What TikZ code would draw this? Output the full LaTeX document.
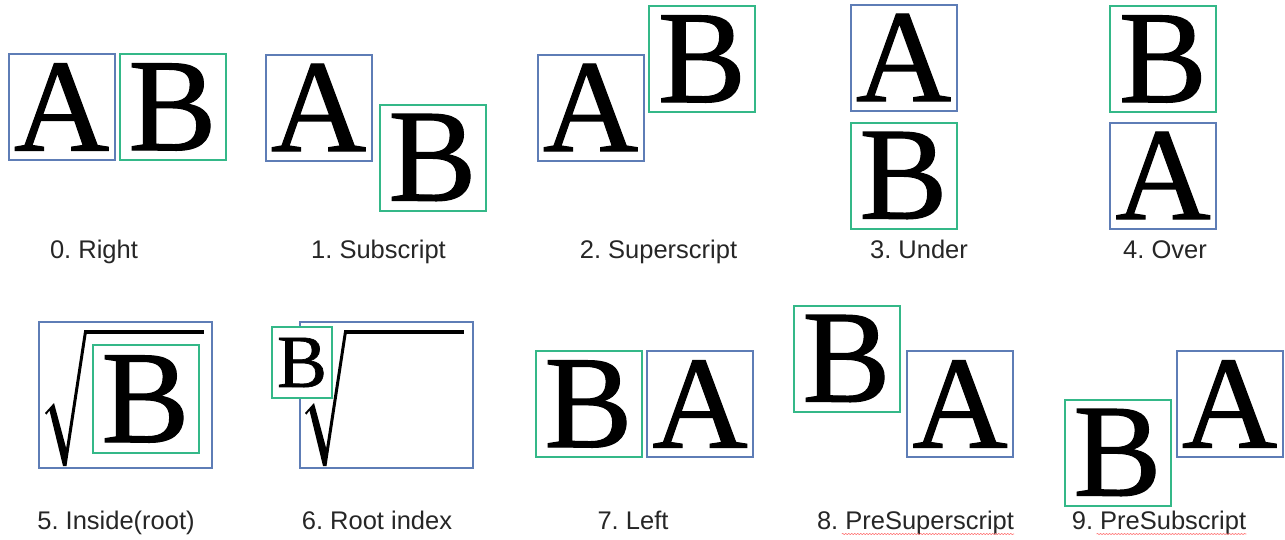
\documentclass[tikz,border=0pt]{standalone}
\usepackage{fontspec}
\setmainfont{Liberation Serif}
\newfontfamily\letterfont[FakeBold=0.9]{Liberation Serif}
\newfontfamily\labfont{Liberation Sans}
\usetikzlibrary{decorations.pathmorphing}
\definecolor{boxblue}{RGB}{94,125,182}
\definecolor{boxgreen}{RGB}{52,184,136}
\definecolor{labgray}{RGB}{38,38,38}
\frenchspacing
\tikzset{
  letterbox/.style={draw, line width=2pt, inner sep=0pt, fill=white,
    minimum width=106pt, minimum height=106pt,
    font=\letterfont\fontsize{132}{132}\selectfont},
  abox/.style={letterbox, draw=boxblue},
  bbox/.style={letterbox, draw=boxgreen},
  rootbox/.style={draw=boxblue, line width=2pt, inner sep=0pt,
    minimum width=173pt, minimum height=146pt},
  smallbbox/.style={bbox, minimum width=60pt, minimum height=71pt,
    font=\letterfont\fontsize{75}{75}\selectfont},
  caption/.style={font=\labfont\fontsize{25.5}{30}\selectfont, text=labgray,
    inner sep=0pt, anchor=base},
  squiggle/.style={draw=red!55, line width=0.6pt, decorate,
    decoration={snake, amplitude=0.6pt, segment length=3pt}},
  radical/.pic={
    \fill[black] (-40,81.5) -- (-31,71.5) -- (-18.85,116.6) -- (-1,0) -- (2,0)
      -- (-18.5,134.5) -- (-22,134.5) -- (-35.5,79) -- (-38.5,83) -- cycle;
    \fill[black] (-1,-2) rectangle (119,2.5);
  }
}
\begin{document}
\begin{tikzpicture}[x=1pt,y=-1pt]
\useasboundingbox[fill=white] (0,0) rectangle (1285,539);

% 0. Right
\node[abox] (a0) at (61.5,107) {A};
\node[bbox] (b0) at (172.5,107) {B};
\node[caption] (l0) at (94,258) {0. Right};

% 1. Subscript
\node[abox] (a1) at (318.5,107.5) {A};
\node[bbox] (b1) at (432.5,157.5) {B};
\node[caption] (l1) at (378.5,258) {1. Subscript};

% 2. Superscript
\node[abox] (a2) at (590.5,107.5) {A};
\node[bbox] (b2) at (702,59) {B};
\node[caption] (l2) at (658.5,258) {2. Superscript};

% 3. Under
\node[abox] (a3) at (903.5,57.5) {A};
\node[bbox] (b3) at (903.5,175.5) {B};
\node[caption] (l3) at (919,258) {3. Under};

% 4. Over
\node[bbox] (b4) at (1163,59) {B};
\node[abox] (a4) at (1163,175.5) {A};
\node[caption] (l4) at (1165,258) {4. Over};

% 5. Inside(root)
\node[rootbox] (a5) at (125.5,395) {};
\pic at (85,331.5) {radical};
\node[bbox, minimum height=108pt] (b5) at (145.5,399) {B};
\node[caption] (l5) at (116,529) {5. Inside(root)};

% 6. Root index
\node[rootbox] (a6) at (386.5,395) {};
\pic at (345,331.5) {radical};
\node[smallbbox] (b6) at (302,362.5) {B};
\node[caption] (l6) at (377,529) {6. Root index};

% 7. Left
\node[bbox] (b7) at (588.5,404) {B};
\node[abox] (a7) at (700,404) {A};
\node[caption] (l7) at (633,529) {7. Left};

% 8. PreSuperscript
\node[bbox] (b8) at (846.5,358.5) {B};
\node[abox] (a8) at (960,404) {A};
\node[caption] (l8) at (915.5,529) {8. PreSuperscript};
\draw[squiggle] ([xshift=25pt,yshift=-5pt]l8.base west) -- ([yshift=-5pt]l8.base east);

% 9. PreSubscript
\node[bbox] (b9) at (1117.5,452.5) {B};
\node[abox] (a9) at (1229.5,404) {A};
\node[caption] (l9) at (1159,529) {9. PreSubscript};
\draw[squiggle] ([xshift=25pt,yshift=-5pt]l9.base west) -- ([yshift=-5pt]l9.base east);
\end{tikzpicture}
\end{document}
